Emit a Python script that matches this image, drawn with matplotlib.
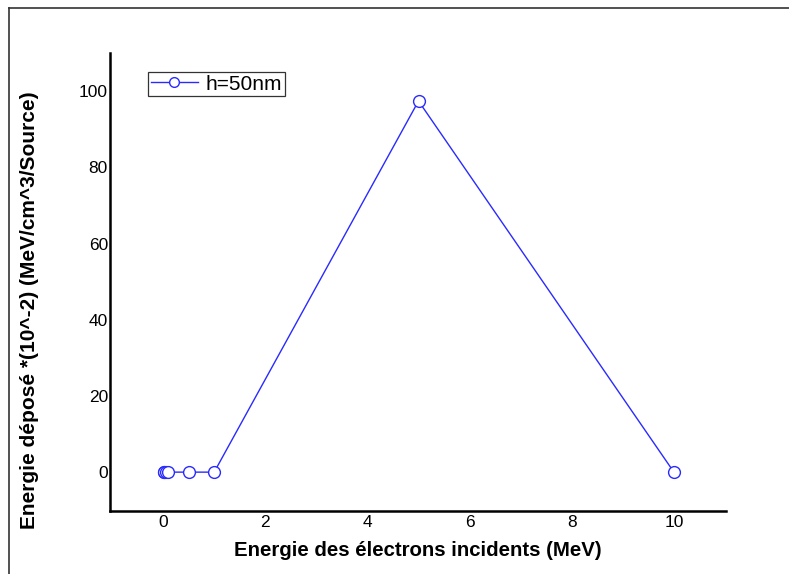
import matplotlib
matplotlib.use("Agg")
import matplotlib.pyplot as plt
from matplotlib.lines import Line2D

plt.rcParams['font.family'] = ['Liberation Sans', 'DejaVu Sans']

# Incident electron energy (MeV) and deposited energy (x10^-2 MeV/cm^3/source)
energy_mev = [0.01, 0.02, 0.05, 0.1, 0.5, 1.0, 5.0, 10.0]
deposited = [0.0, 0.0, 0.0, 0.0, 0.0, 0.0, 97.4, 0.0]
series_label = "h=50nm"
x_ticks = [0, 2, 4, 6, 8, 10]
y_ticks = [0, 20, 40, 60, 80, 100]

fig = plt.figure(figsize=(7.89, 5.74), dpi=100)
ax = fig.add_axes([110 / 789, 1 - 511 / 574, (726 - 110) / 789, (511 - 53) / 574])

color = '#2a2aff'
ax.plot(energy_mev, deposited, color=color, lw=1.0, marker='o', ms=8.5,
        mfc='white', mec=color, mew=1.0, label=series_label)

ax.set_xlim(-1.04, 11.02)
ax.set_ylim(-10.2, 110.0)
ax.set_xticks(x_ticks)
ax.set_yticks(y_ticks)
ax.tick_params(length=0, labelsize=12.5)
ax.tick_params(axis='x', pad=3)
ax.tick_params(axis='y', pad=1.5)
for side in ('top', 'right'):
    ax.spines[side].set_visible(False)
for side in ('left', 'bottom'):
    ax.spines[side].set_linewidth(1.8)

ax.set_xlabel("Energie des électrons incidents (MeV)", fontsize=14.7,
              fontweight='bold', labelpad=8)
ax.set_ylabel("Energie déposé *(10^-2) (MeV/cm^3/Source)", fontsize=15,
              fontweight='bold')
ax.yaxis.set_label_coords(-0.115, 0.439)

handle = Line2D([], [], color=color, lw=1.0, marker='o', ms=7,
                mfc='white', mec=color, mew=1.0)
leg = ax.legend([handle], [series_label], loc='upper left',
                bbox_to_anchor=(148 / 789, 1 - 72 / 574),
                bbox_transform=fig.transFigure, fontsize=15,
                frameon=True, fancybox=False, handlelength=2.3,
                handletextpad=0.35, borderpad=0.12, borderaxespad=0)
leg.get_frame().set_edgecolor('black')
leg.get_frame().set_linewidth(0.9)

# outer frame drawn in figure coordinates (left and top edges)
fig.add_artist(Line2D([9 / 789, 9 / 789], [0, 1 - 8 / 574],
                      transform=fig.transFigure, color='#333333', lw=1.2))
fig.add_artist(Line2D([9 / 789, 1], [1 - 8 / 574, 1 - 8 / 574],
                      transform=fig.transFigure, color='#333333', lw=1.2))

fig.savefig("out.png", dpi=100)
